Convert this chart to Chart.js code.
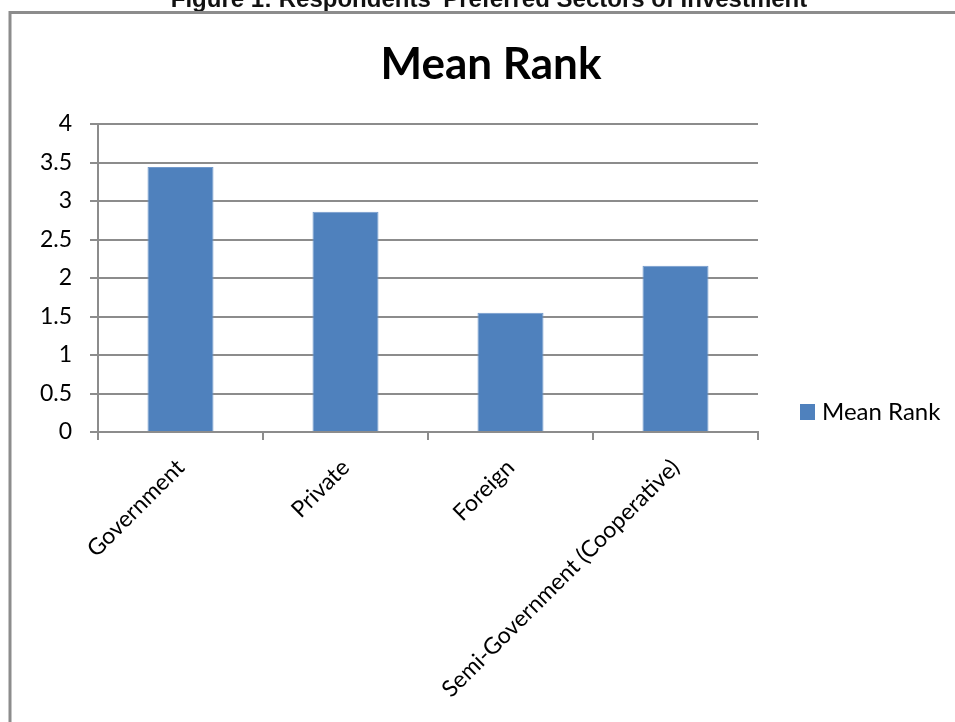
<!DOCTYPE html>
<html>
<head>
<meta charset="utf-8">
<script src="https://cdn.jsdelivr.net/npm/chart.js@4"></script>
<style>
  html, body { margin: 0; padding: 0; background: #fff; }
  #wrap { width: 955px; height: 722px; }
</style>
</head>
<body>
<div id="wrap"><canvas id="rankChart" width="955" height="722"></canvas></div>
<script>
const sectores = ["Government", "Private", "Foreign", "Semi-Government (Cooperative)"];
const meanRank = [3.44, 2.86, 1.55, 2.16];
const yTicks = [0, 0.5, 1, 1.5, 2, 2.5, 3, 3.5, 4];

const caption = "Figure 1: Respondents' Preferred Sectors of Investment";
const titulo = "Mean Rank";
const colorBarra = "#4F81BD";
const colorGris = "#8c8c8c";
const fuente = "Lato, Calibri, 'Open Sans', sans-serif";

// marco, leyenda y titulos dibujados a mano
const marco = {
  id: "marco",
  beforeDraw(chart) {
    const ctx = chart.ctx;
    ctx.save();
    ctx.fillStyle = "#fff";
    ctx.fillRect(0, 0, chart.width, chart.height);

    ctx.fillStyle = "#111";
    ctx.font = "bold 24px 'Liberation Sans', Arial, sans-serif";
    ctx.textAlign = "center";
    ctx.textBaseline = "alphabetic";
    ctx.fillText(caption, 489, 7);

    ctx.strokeStyle = colorGris;
    ctx.lineWidth = 3;
    ctx.beginPath();
    ctx.moveTo(10, 722);
    ctx.lineTo(10, 12.5);
    ctx.lineTo(955, 12.5);
    ctx.stroke();
    ctx.restore();
  },
  afterDraw(chart) {
    const ctx = chart.ctx;
    ctx.save();
    ctx.fillStyle = "#000";
    ctx.font = "bold 44px " + fuente;
    ctx.textAlign = "center";
    ctx.textBaseline = "alphabetic";
    ctx.fillText(titulo, 491, 79);

    const ds = chart.data.datasets[0];
    ctx.fillStyle = ds.backgroundColor;
    ctx.fillRect(800, 404, 15, 16);
    ctx.fillStyle = "#000";
    ctx.font = "24px " + fuente;
    ctx.textAlign = "left";
    ctx.fillText(ds.label, 822, 420);
    ctx.restore();
  }
};

const ctx = document.getElementById("rankChart").getContext("2d");
new Chart(ctx, {
  type: "bar",
  data: {
    labels: sectores,
    datasets: [
      {
        label: "Mean Rank",
        data: meanRank,
        backgroundColor: colorBarra,
        borderColor: "#7299cb",
        borderWidth: 1,
        barPercentage: 0.4,
        categoryPercentage: 1,
      },
    ],
  },
  options: {
    responsive: false,
    animation: false,
    layout: {
      padding: { top: 124, right: 197, bottom: 0, left: 0 },
    },
    plugins: {
      legend: { display: false },
      title: { display: false },
      tooltip: { enabled: false },
    },
    scales: {
      x: {
        afterFit: (scale) => {
          scale.height = 290;
        },
        grid: {
          offset: true,
          drawOnChartArea: false,
          drawTicks: true,
          tickLength: 8,
          color: colorGris,
          lineWidth: 2,
        },
        border: { color: colorGris, width: 2 },
        ticks: {
          color: "#000",
          font: { family: fuente, size: 23 },
          minRotation: 45,
          maxRotation: 45,
          autoSkip: false,
          padding: 14,
        },
      },
      y: {
        min: 0,
        max: 4,
        afterFit: (scale) => {
          scale.width = 98;
        },
        afterBuildTicks: (scale) => {
          scale.ticks = yTicks.map((v) => ({ value: v }));
        },
        grid: {
          color: colorGris,
          lineWidth: 2,
          tickLength: 8,
        },
        border: { color: colorGris, width: 2 },
        ticks: {
          color: "#000",
          font: { family: fuente, size: 23 },
          padding: 18,
          callback: (v) => String(v),
        },
      },
    },
  },
  plugins: [marco],
});
</script>
</body>
</html>
